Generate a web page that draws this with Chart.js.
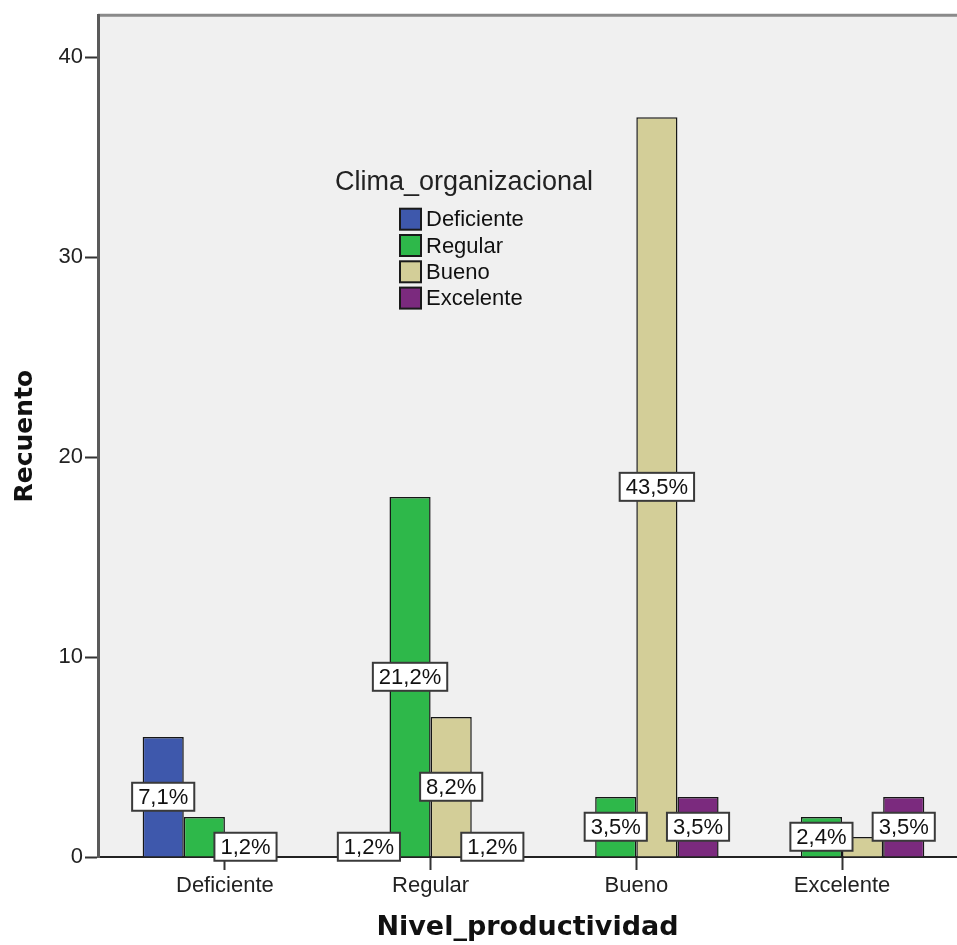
<!DOCTYPE html>
<html>
<head>
<meta charset="utf-8">
<script src="https://cdn.jsdelivr.net/npm/chart.js@4.4.1/dist/chart.umd.min.js"></script>
<style>
  html, body { margin: 0; padding: 0; background: #fff; }
</style>
</head>
<body>
<canvas id="grafico" width="957" height="945"></canvas>
<script>
// Nivel_productividad x Clima_organizacional (recuentos)
const categorias = ['Deficiente', 'Regular', 'Bueno', 'Excelente'];
const deficiente = [6, 1, 0, 0];
const regular = [2, 18, 3, 2];
const bueno = [1, 7, 37, 1];
const excelente = [0, 1, 3, 3];
const ticksY = [0, 10, 20, 30, 40];

const series = [
  { nombre: 'Deficiente', valores: deficiente, color: '#3E58AC' },
  { nombre: 'Regular', valores: regular, color: '#2EB84A' },
  { nombre: 'Bueno', valores: bueno, color: '#D3CE98' },
  { nombre: 'Excelente', valores: excelente, color: '#7B2A7E' }
];

const total = series.reduce((s, d) => s + d.valores.reduce((a, b) => a + b, 0), 0);
const pct = (v) => (v / total * 100).toFixed(1).replace('.', ',') + '%';

const fuente = 'Liberation Sans, Arial, sans-serif';

// fondo gris del area y linea superior
const fondo = {
  id: 'fondo',
  beforeDraw(chart) {
    const { ctx, chartArea: a } = chart;
    ctx.save();
    ctx.fillStyle = '#F0F0F0';
    ctx.fillRect(a.left, a.top, a.right - a.left, a.bottom - a.top);
    ctx.strokeStyle = '#8a8a8a';
    ctx.lineWidth = 3;
    ctx.beginPath();
    ctx.moveTo(a.left, a.top);
    ctx.lineTo(a.right, a.top);
    ctx.stroke();
    ctx.restore();
  }
};

// porcentajes en cajas blancas; se omite la que choca con otra ya dibujada
const etiquetas = {
  id: 'etiquetas',
  afterDatasetsDraw(chart) {
    const ctx = chart.ctx;
    const cajas = [];
    ctx.save();
    ctx.font = '22px ' + fuente;
    ctx.textAlign = 'center';
    ctx.textBaseline = 'middle';
    for (let d = chart.data.datasets.length - 1; d >= 0; d--) {
      const meta = chart.getDatasetMeta(d);
      const vals = series[d].valores;
      meta.data.forEach((bar, i) => {
        if (!vals[i]) return;
        const txt = pct(vals[i]);
        const w = ctx.measureText(txt).width + 12;
        const h = 28;
        const cx = bar.x;
        const cy = (bar.y + bar.base) / 2;
        const c = { x0: cx - w / 2, x1: cx + w / 2, y0: cy - h / 2, y1: cy + h / 2 };
        const choca = cajas.some(b => c.x0 < b.x1 && c.x1 > b.x0 && c.y0 < b.y1 && c.y1 > b.y0);
        if (choca) return;
        cajas.push(c);
        ctx.fillStyle = '#fff';
        ctx.fillRect(c.x0, c.y0, w, h);
        ctx.strokeStyle = '#3a3a3a';
        ctx.lineWidth = 2;
        ctx.strokeRect(c.x0, c.y0, w, h);
        ctx.fillStyle = '#111';
        ctx.fillText(txt, cx, cy + 1);
      });
    }
    ctx.restore();
  }
};

// leyenda dentro del area del grafico
const leyenda = {
  id: 'leyenda',
  afterDraw(chart) {
    const { ctx, chartArea: a } = chart;
    ctx.save();
    ctx.fillStyle = '#222';
    ctx.font = '27px ' + fuente;
    ctx.textAlign = 'center';
    ctx.textBaseline = 'middle';
    ctx.fillText('Clima_organizacional', a.left + 366, a.top + 167);
    ctx.font = '22px ' + fuente;
    ctx.textAlign = 'left';
    series.forEach((s, i) => {
      const y = a.top + 204 + i * 26.3;
      const x = a.left + 302;
      ctx.fillStyle = s.color;
      ctx.fillRect(x, y - 10.5, 21, 21);
      ctx.strokeStyle = '#1a1a1a';
      ctx.lineWidth = 2;
      ctx.strokeRect(x, y - 10.5, 21, 21);
      ctx.fillStyle = '#111';
      ctx.fillText(s.nombre, x + 26, y + 1);
    });
    ctx.restore();
  }
};

new Chart(document.getElementById('grafico'), {
  type: 'bar',
  data: {
    datasets: series.map(s => ({
      label: s.nombre,
      data: s.valores.map((v, i) => ({ x: i, y: v })),
      backgroundColor: s.color,
      borderColor: '#161616',
      borderWidth: 1.5,
      borderSkipped: 'start',
      categoryPercentage: 0.8,
      barPercentage: 1.0
    }))
  },
  options: {
    responsive: false,
    animation: false,
    layout: { padding: { top: 15, right: 0, left: 0, bottom: 0 } },
    plugins: {
      legend: { display: false },
      tooltip: { enabled: false }
    },
    scales: {
      x: {
        type: 'linear',
        offset: false,
        min: -0.617,
        max: 3.559,
        afterBuildTicks: (scale) => { scale.ticks = categorias.map((_, i) => ({ value: i })); },
        afterFit: (scale) => { scale.height = 88; },
        ticks: {
          autoSkip: false,
          maxRotation: 0,
          padding: 3,
          color: '#222',
          font: { family: fuente, size: 22 },
          callback: (v) => categorias[v]
        },
        grid: { offset: false, drawOnChartArea: false, tickLength: 13, tickWidth: 2, tickColor: '#333' },
        border: { color: '#222', width: 2 },
        title: {
          display: true,
          text: 'Nivel_productividad',
          color: '#111',
          font: { family: 'DejaVu Sans', size: 27, weight: 'bold' },
          padding: { top: 0, bottom: 1 }
        }
      },
      y: {
        min: 0,
        max: 42.1,
        afterBuildTicks: (scale) => { scale.ticks = ticksY.map(v => ({ value: v })); },
        afterFit: (scale) => { scale.width = 98; },
        ticks: {
          padding: 2,
          color: '#222',
          font: { family: fuente, size: 22 }
        },
        grid: { drawOnChartArea: false, tickLength: 13, tickWidth: 2, tickColor: '#333' },
        border: { color: '#5a5a5a', width: 3 },
        title: {
          display: true,
          text: 'Recuento',
          color: '#111',
          font: { family: 'DejaVu Sans', size: 25, weight: 'bold' },
          padding: { top: 10, bottom: 0 }
        }
      }
    }
  },
  plugins: [fondo, etiquetas, leyenda]
});
</script>
</body>
</html>
